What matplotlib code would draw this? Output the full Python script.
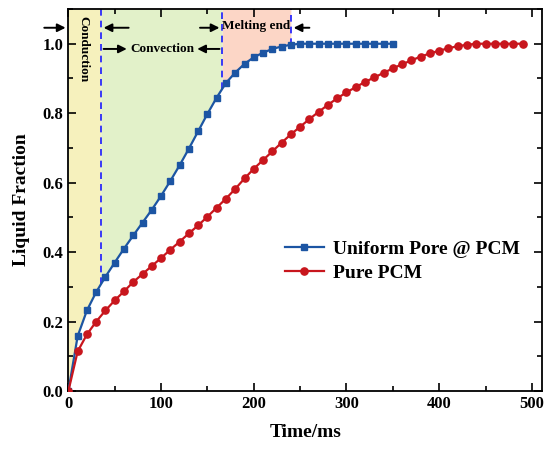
import numpy as np
import matplotlib
matplotlib.use('Agg')
import matplotlib.pyplot as plt
from matplotlib.ticker import MultipleLocator

plt.rcParams['font.family'] = 'Liberation Serif'
plt.rcParams['font.weight'] = 'bold'
plt.rcParams['axes.labelweight'] = 'bold'

# melting curves, sampled every 10 ms
t_pore = np.arange(0, 360, 10)
lf_pore = [0.0, 0.158, 0.232, 0.285, 0.329, 0.370, 0.410, 0.448, 0.485, 0.522,
           0.562, 0.605, 0.650, 0.698, 0.748, 0.798, 0.845, 0.887, 0.917, 0.942,
           0.961, 0.974, 0.985, 0.992, 0.997, 1.0, 1.0, 1.0, 1.0, 1.0,
           1.0, 1.0, 1.0, 1.0, 1.0, 1.0]
t_pure = np.arange(0, 500, 10)
lf_pure = [0.0, 0.114, 0.163, 0.200, 0.232, 0.261, 0.287, 0.314, 0.337, 0.360,
           0.383, 0.407, 0.430, 0.454, 0.477, 0.502, 0.528, 0.554, 0.582, 0.612,
           0.640, 0.665, 0.690, 0.715, 0.739, 0.761, 0.783, 0.804, 0.824, 0.843,
           0.860, 0.875, 0.890, 0.903, 0.916, 0.929, 0.941, 0.952, 0.963, 0.972,
           0.980, 0.987, 0.993, 0.997, 1.0, 1.0, 1.0, 1.0, 1.0, 1.0]

# stage boundaries (ms)
stages = [0, 35, 166, 240]
stage_colors = ['#f6f1bd', '#e2f1c9', '#fcd6c6']

fig = plt.figure(figsize=(5.47, 4.5), dpi=100)
ax = fig.add_axes([0.125, 0.131, 0.866, 0.849])
ytop = 1.1

# shaded stages above the porous curve
for a, b, c in zip(stages[:-1], stages[1:], stage_colors):
    xs = np.concatenate([[a], t_pore[(t_pore > a) & (t_pore < b)], [b]])
    ys = np.interp(xs, t_pore, lf_pore)
    ax.fill_between(xs, ys, ytop, color=c, lw=0, zorder=0)
for b in stages[1:]:
    ax.plot([b, b], [np.interp(b, t_pore, lf_pore), ytop], color='#1a1aff',
            ls=(0, (4, 3)), lw=1.2, zorder=1)

ax.plot(t_pore, lf_pore, color='#1c55a3', lw=1.6, marker='s', ms=4.8,
        label='Uniform Pore @ PCM', zorder=3)
ax.plot(t_pure, lf_pure, color='#c8161d', lw=1.6, marker='o', ms=5.2,
        label='Pure PCM', zorder=3)

# stage annotations
arw = dict(arrowstyle='-|>', color='black', lw=1.4, mutation_scale=12)
y1, y2 = 1.046, 0.985
ax.annotate('', xy=(0, y1), xytext=(-29, y1), arrowprops=arw, annotation_clip=False)
ax.annotate('', xy=(35, y1), xytext=(68, y1), arrowprops=arw)
ax.annotate('', xy=(166, y1), xytext=(139, y1), arrowprops=arw)
ax.annotate('', xy=(240, y1), xytext=(263, y1), arrowprops=arw)
ax.annotate('', xy=(66, y2), xytext=(35, y2), arrowprops=arw)
ax.annotate('', xy=(136, y2), xytext=(166, y2), arrowprops=arw)
ax.text(16, 0.985, 'Conduction', rotation=270, ha='center', va='center', fontsize=9.5)
ax.text(101, y2, 'Convection', ha='center', va='center', fontsize=9.5)
ax.text(203, 1.05, 'Melting end', ha='center', va='center', fontsize=9.5)

ax.set_xlim(0, 511)
ax.set_ylim(0, ytop)
ax.xaxis.set_major_locator(MultipleLocator(100))
ax.xaxis.set_minor_locator(MultipleLocator(50))
ax.yaxis.set_major_locator(MultipleLocator(0.2))
ax.yaxis.set_minor_locator(MultipleLocator(0.1))
ax.tick_params(which='both', direction='in', top=True, right=True, width=1.2,
               labelsize=12)
ax.tick_params(which='major', length=6)
ax.tick_params(which='minor', length=3.5)
for s in ax.spines.values():
    s.set_linewidth(1.3)

ax.set_xlabel('Time/ms', fontsize=14, labelpad=9)
ax.set_ylabel('Liquid Fraction', fontsize=14, labelpad=9)

ax.legend(loc='center left', bbox_to_anchor=(0.457, 0.34), frameon=False,
          fontsize=14, handlelength=2.0, handletextpad=0.5, labelspacing=0.3,
          borderpad=0, borderaxespad=0)

fig.savefig('out.png', dpi=100)
